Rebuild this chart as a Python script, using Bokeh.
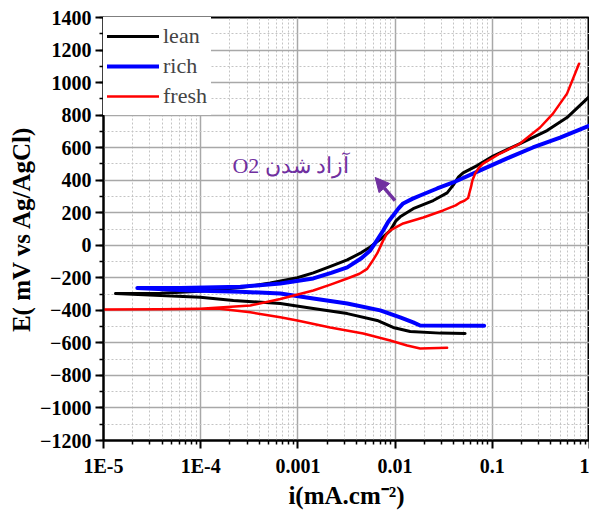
from bokeh.plotting import figure
from bokeh.models import (Range1d, FixedTicker, CustomJSTickFormatter, Legend, LegendItem,
                          Label, Arrow, NormalHead, ColumnDataSource)
from bokeh.embed import file_html
from bokeh.resources import INLINE

# ---------------- data ----------------
lean_i = [0.0525, 0.0291, 0.0143, 0.00955, 0.00654, 0.00322, 0.00144, 6.59e-4, 2.17e-4, 9.9e-5, 1.33e-5,
          3.85e-5, 9.9e-5, 2.56e-4, 5.20e-4, 9.86e-4, 1.44e-3, 2.2e-3, 3.22e-3, 4.5e-3, 5.55e-3, 7.0e-3,
          8.91e-3, 0.0102, 0.01128, 0.01535, 0.0247, 0.0343, 0.0396, 0.045, 0.0501, 0.0698, 0.102, 0.193,
          0.366, 0.587, 1.0]
lean_E = [-542, -540, -530, -505, -462, -420, -389, -358, -339, -320, -297,
          -295, -283, -260, -232, -200, -170, -128, -90, -45, -10, 35,
          90, 150, 175, 225, 275, 322, 370, 420, 445, 490, 548, 625,
          705, 785, 915]

rich_i = [0.0824, 0.0181, 0.01535, 0.01128, 0.00703, 0.00322, 0.00144, 6.59e-4, 2.56e-4, 7.83e-5, 2.23e-5,
          6.18e-5, 2.56e-4, 6.59e-4, 1.44e-3, 2.2e-3, 3.22e-3, 4.5e-3, 5.55e-3, 6.5e-3, 7.55e-3, 8.5e-3,
          9.55e-3, 0.0108, 0.0121, 0.0150, 0.0181, 0.0271, 0.0396, 0.0750, 0.142, 0.262, 0.498, 1.0]
rich_E = [-495, -493, -474, -443, -400, -358, -327, -297, -285, -278, -262,
          -262, -255, -235, -204, -170, -136, -80, -32, 30, 91, 145,
          183, 225, 257, 285, 306, 349, 386, 460, 534, 601, 662, 736]

fresh_i = [0.0343, 0.0181, 0.0133, 0.00891, 0.00470, 0.00215, 9.86e-4, 6.59e-4, 3.24e-4, 1.49e-4, 3.85e-5, 1.0e-5,
           3.85e-5, 9.93e-5, 3.24e-4, 6.59e-4, 1.44e-3, 2.2e-3, 3.22e-3, 4.3e-3, 5.16e-3, 5.8e-3, 6.54e-3,
           7.55e-3, 8.2e-3, 8.91e-3, 0.0105, 0.0121, 0.0195, 0.0312, 0.042, 0.0467, 0.052, 0.0564, 0.058,
           0.0605, 0.0625, 0.0665, 0.0725, 0.0804, 0.120, 0.193, 0.310, 0.421, 0.587, 0.780]
fresh_E = [-630, -634, -616, -585, -542, -505, -462, -443, -412, -389, -393, -395,
           -393, -390, -370, -330, -278, -240, -204, -175, -145, -100, -50,
           30, 70, 91, 115, 134, 171, 214, 245, 263, 275, 290, 320,
           360, 400, 440, 475, 502, 564, 625, 724, 809, 932, 1116]

series_names = ["lean", "rich", "fresh"]
x_tick_values = [1e-5, 1e-4, 1e-3, 1e-2, 1e-1, 1.0]
x_tick_labels = ["1E-5", "1E-4", "0.001", "0.01", "0.1", "1"]
y_tick_values = list(range(-1200, 1401, 200))
annotation_text = "O2 آزاد شدن"
arrow_tail = (0.00998, 275)
arrow_head = (0.00624, 417)
annotation_pos = (2.12e-4, 490)

# ---------------- figure ----------------
p = figure(width=589, height=512, x_axis_type="log", output_backend="svg", toolbar_location=None,
           x_range=Range1d(1e-5, 1.0), y_range=Range1d(-1200, 1400),
           min_border_left=103, min_border_right=0, min_border_top=17, min_border_bottom=72)
p.background_fill_color = "white"
p.border_fill_color = "white"
p.outline_line_color = "black"
p.outline_line_width = 2

minor_x = [k * 10.0 ** n for n in range(-5, 0) for k in range(2, 10)]
p.xaxis.ticker = FixedTicker(ticks=x_tick_values, minor_ticks=minor_x)
p.xaxis.formatter = CustomJSTickFormatter(args=dict(vals=x_tick_values, labs=x_tick_labels), code="""
    let best = 0, bd = 1e9;
    for (let k = 0; k < vals.length; k++) {
        const d = Math.abs(Math.log10(vals[k]) - Math.log10(tick));
        if (d < bd) { bd = d; best = k; }
    }
    return labs[best];
""")
minor_y = list(range(-1200, 1401, 100))
p.yaxis.ticker = FixedTicker(ticks=y_tick_values, minor_ticks=minor_y)

for ax in (p.xaxis[0], p.yaxis[0]):
    ax.axis_line_width = 2
    ax.axis_line_color = "black"
    ax.major_tick_line_width = 2
    ax.minor_tick_line_width = 1.5
    ax.major_tick_out = 8
    ax.major_tick_in = 0
    ax.minor_tick_out = 4
    ax.minor_tick_in = 0
    ax.major_label_text_font = "Liberation Serif"
    ax.major_label_text_font_style = "bold"
    ax.major_label_text_font_size = "20px"
    ax.major_label_text_color = "black"
    ax.axis_label_text_font = "Liberation Serif"
    ax.axis_label_text_font_style = "bold"
    ax.axis_label_text_font_size = "25px"
    ax.axis_label_text_color = "black"

p.xaxis.axis_label = "i(mA.cm\u207B\u00B2)"
p.yaxis.axis_label = "E( mV vs Ag/AgCl)"
p.xaxis.major_label_standoff = 6
p.yaxis.major_label_standoff = 4
p.xaxis.axis_label_standoff = 2
p.yaxis.axis_label_standoff = 2

for g in (p.xgrid[0], p.ygrid[0]):
    g.grid_line_color = "#a8a8a8"
    g.grid_line_width = 1.5
    g.minor_grid_line_color = "#c4c4c4"
    g.minor_grid_line_dash = "2 2"
    g.minor_grid_line_width = 1

colors = {"lean": "black", "rich": "#0000ff", "fresh": "#ff0000"}
widths = {"lean": 3, "rich": 4, "fresh": 2.5}
data = {"lean": (lean_i, lean_E), "rich": (rich_i, rich_E), "fresh": (fresh_i, fresh_E)}
renderers = {}
for name in ["lean", "rich", "fresh"]:
    xs, ys = data[name]
    src = ColumnDataSource(dict(x=xs, y=ys))
    renderers[name] = p.line("x", "y", source=src, line_color=colors[name], line_width=widths[name],
                             line_join="round", line_cap="round")

legend = Legend(items=[LegendItem(label=n, renderers=[renderers[n]]) for n in series_names],
                location="top_left", margin=0, padding=4, spacing=0,
                glyph_width=52, glyph_height=30, label_height=30, label_standoff=4,
                label_text_font="Liberation Serif", label_text_font_size="22px",
                background_fill_color="white", background_fill_alpha=1.0,
                border_line_alpha=0)
p.add_layout(legend)

p.add_layout(Arrow(end=NormalHead(size=14, fill_color="#7030a0", line_color="#7030a0"),
                   x_start=arrow_tail[0], y_start=arrow_tail[1], x_end=arrow_head[0], y_end=arrow_head[1],
                   line_color="#7030a0", line_width=3.5))
p.add_layout(Label(x=annotation_pos[0], y=annotation_pos[1], text=annotation_text,
                   text_font="Liberation Serif", text_font_size="22px", text_color="#7030a0",
                   text_baseline="alphabetic"))

open("out.html", "w").write(file_html(p, INLINE))
